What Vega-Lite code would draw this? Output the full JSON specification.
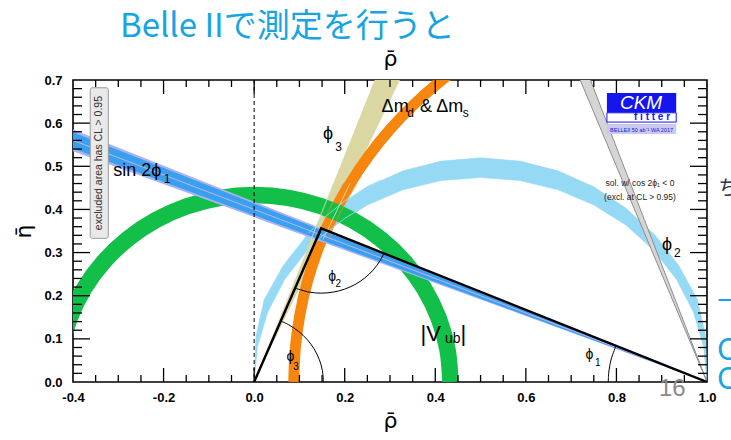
{
  "$schema": "https://vega.github.io/schema/vega-lite/v6.json",
  "width": 634,
  "height": 302,
  "autosize": "none",
  "padding": {"left": 73, "top": 80, "right": 24, "bottom": 58},
  "background": "white",
  "title": {
    "text": "Belle IIで測定を行うと",
    "anchor": "start",
    "frame": "group",
    "dx": 47,
    "offset": 3,
    "fontSize": 33,
    "font": "Noto Sans CJK JP",
    "fontWeight": "normal",
    "color": "#16a4e3"
  },
  "config": {
    "view": {"stroke": "black", "strokeWidth": 1.6},
    "axis": {
      "grid": false,
      "domain": false,
      "ticks": false,
      "labelFont": "Liberation Sans",
      "titleFont": "DejaVu Sans",
      "labelColor": "black",
      "titleColor": "black"
    },
    "text": {"font": "Liberation Sans"}
  },
  "datasets": {
    "phi2": [
      {"rho": 1.0, "eta": 0.0}, {"rho": 0.997, "eta": 0.1064}, {"rho": 0.979, "eta": 0.1906},
      {"rho": 0.938, "eta": 0.2696}, {"rho": 0.885, "eta": 0.341}, {"rho": 0.8214, "eta": 0.4026},
      {"rho": 0.75, "eta": 0.4526}, {"rho": 0.671, "eta": 0.4895}, {"rho": 0.5868, "eta": 0.512},
      {"rho": 0.5, "eta": 0.5196}, {"rho": 0.4132, "eta": 0.512}, {"rho": 0.329, "eta": 0.4895},
      {"rho": 0.25, "eta": 0.4526}, {"rho": 0.1786, "eta": 0.4026}, {"rho": 0.117, "eta": 0.341},
      {"rho": 0.064, "eta": 0.2696}, {"rho": 0.022, "eta": 0.1906}, {"rho": 0.004, "eta": 0.1064},
      {"rho": 0.0, "eta": 0.0},
      {"rho": 0.0076, "eta": 0.0823}, {"rho": 0.0302, "eta": 0.1621}, {"rho": 0.067, "eta": 0.237},
      {"rho": 0.117, "eta": 0.3047}, {"rho": 0.1786, "eta": 0.3631}, {"rho": 0.25, "eta": 0.4105},
      {"rho": 0.329, "eta": 0.4454}, {"rho": 0.4132, "eta": 0.4668}, {"rho": 0.5, "eta": 0.474},
      {"rho": 0.5868, "eta": 0.4668}, {"rho": 0.671, "eta": 0.4454}, {"rho": 0.75, "eta": 0.4105},
      {"rho": 0.8214, "eta": 0.3631}, {"rho": 0.883, "eta": 0.3047}, {"rho": 0.933, "eta": 0.237},
      {"rho": 0.9698, "eta": 0.1621}, {"rho": 0.9924, "eta": 0.0823}
    ],
    "phi3": [
      {"rho": 0.0, "lo": 0.0, "hi": 0.0},
      {"rho": 0.35, "lo": 0.7609, "hi": 0.9211}
    ],
    "dm": [
      {"rho": 0.0875, "eta": 0.0}, {"rho": 0.091, "eta": 0.0795}, {"rho": 0.1014, "eta": 0.1584},
      {"rho": 0.1186, "eta": 0.2362}, {"rho": 0.1425, "eta": 0.3121}, {"rho": 0.173, "eta": 0.3856},
      {"rho": 0.2098, "eta": 0.4563}, {"rho": 0.2525, "eta": 0.5234}, {"rho": 0.301, "eta": 0.5866},
      {"rho": 0.3548, "eta": 0.6452}, {"rho": 0.4134, "eta": 0.699}, {"rho": 0.4766, "eta": 0.7475}
    ],
    "vub": [
      {"rho": 0.4335, "eta": 0.0}, {"rho": 0.4269, "eta": 0.0753}, {"rho": 0.4074, "eta": 0.1483},
      {"rho": 0.3754, "eta": 0.2168}, {"rho": 0.3321, "eta": 0.2787}, {"rho": 0.2787, "eta": 0.3321},
      {"rho": 0.2168, "eta": 0.3754}, {"rho": 0.1483, "eta": 0.4074}, {"rho": 0.0753, "eta": 0.4269},
      {"rho": 0.0, "eta": 0.4335}, {"rho": -0.0753, "eta": 0.4269}, {"rho": -0.1483, "eta": 0.4074},
      {"rho": -0.2168, "eta": 0.3754}, {"rho": -0.2787, "eta": 0.3321}, {"rho": -0.3321, "eta": 0.2787},
      {"rho": -0.3754, "eta": 0.2168}, {"rho": -0.4074, "eta": 0.1483}, {"rho": -0.4269, "eta": 0.0753}
    ],
    "sin2phi": [
      {"rho": -0.4, "out_lo": 0.5348, "out_hi": 0.5852, "in_lo": 0.5411, "in_hi": 0.5789, "eta": 0.56},
      {"rho": 1.0, "out_lo": 0.0, "out_hi": 0.0, "in_lo": 0.0, "in_hi": 0.0, "eta": 0.0}
    ],
    "alt": [
      {"rho": 0.7, "lo": 0.75, "hi": 0.816},
      {"rho": 1.0, "lo": 0.0, "hi": 0.0}
    ],
    "outlines": [
      {"band": "dm", "seg": "dm_out", "rho": 0.136, "eta": 0.33},
      {"band": "dm", "seg": "dm_out", "rho": 0.165, "eta": 0.398},
      {"band": "dm", "seg": "dm_out", "rho": 0.1975, "eta": 0.46},
      {"band": "dm", "seg": "dm_in", "rho": 0.163, "eta": 0.33},
      {"band": "dm", "seg": "dm_in", "rho": 0.191, "eta": 0.3945},
      {"band": "dm", "seg": "dm_in", "rho": 0.226, "eta": 0.46},
      {"band": "phi3", "seg": "p3_a", "rho": 0.1254, "eta": 0.33},
      {"band": "phi3", "seg": "p3_a", "rho": 0.1748, "eta": 0.46},
      {"band": "phi3", "seg": "p3_b", "rho": 0.1518, "eta": 0.33},
      {"band": "phi3", "seg": "p3_b", "rho": 0.2116, "eta": 0.46},
      {"band": "phi2", "seg": "p2_out", "rho": 0.12, "eta": 0.3446},
      {"band": "phi2", "seg": "p2_out", "rho": 0.15, "eta": 0.3767},
      {"band": "phi2", "seg": "p2_out", "rho": 0.2, "eta": 0.4196},
      {"band": "phi2", "seg": "p2_out", "rho": 0.25, "eta": 0.4526},
      {"band": "phi2", "seg": "p2_out", "rho": 0.28, "eta": 0.4686},
      {"band": "phi2", "seg": "p2_in", "rho": 0.12, "eta": 0.3047},
      {"band": "phi2", "seg": "p2_in", "rho": 0.15, "eta": 0.3385},
      {"band": "phi2", "seg": "p2_in", "rho": 0.2, "eta": 0.3792},
      {"band": "phi2", "seg": "p2_in", "rho": 0.25, "eta": 0.4105},
      {"band": "phi2", "seg": "p2_in", "rho": 0.3, "eta": 0.4345}
    ],
    "tickmarks": [
      {"t": "b01", "rho": -0.35, "eta": 0}, {"t": "b01", "rho": -0.35, "eta": 0.0162},
      {"t": "b02", "rho": -0.3, "eta": 0}, {"t": "b02", "rho": -0.3, "eta": 0.0162},
      {"t": "b03", "rho": -0.25, "eta": 0}, {"t": "b03", "rho": -0.25, "eta": 0.0162},
      {"t": "b04", "rho": -0.2, "eta": 0}, {"t": "b04", "rho": -0.2, "eta": 0.0324},
      {"t": "b05", "rho": -0.15, "eta": 0}, {"t": "b05", "rho": -0.15, "eta": 0.0162},
      {"t": "b06", "rho": -0.1, "eta": 0}, {"t": "b06", "rho": -0.1, "eta": 0.0162},
      {"t": "b07", "rho": -0.05, "eta": 0}, {"t": "b07", "rho": -0.05, "eta": 0.0162},
      {"t": "b08", "rho": 0.0, "eta": 0}, {"t": "b08", "rho": 0.0, "eta": 0.0324},
      {"t": "b09", "rho": 0.05, "eta": 0}, {"t": "b09", "rho": 0.05, "eta": 0.0162},
      {"t": "b10", "rho": 0.1, "eta": 0}, {"t": "b10", "rho": 0.1, "eta": 0.0162},
      {"t": "b11", "rho": 0.15, "eta": 0}, {"t": "b11", "rho": 0.15, "eta": 0.0162},
      {"t": "b12", "rho": 0.2, "eta": 0}, {"t": "b12", "rho": 0.2, "eta": 0.0324},
      {"t": "b13", "rho": 0.25, "eta": 0}, {"t": "b13", "rho": 0.25, "eta": 0.0162},
      {"t": "b14", "rho": 0.3, "eta": 0}, {"t": "b14", "rho": 0.3, "eta": 0.0162},
      {"t": "b15", "rho": 0.35, "eta": 0}, {"t": "b15", "rho": 0.35, "eta": 0.0162},
      {"t": "b16", "rho": 0.4, "eta": 0}, {"t": "b16", "rho": 0.4, "eta": 0.0324},
      {"t": "b17", "rho": 0.45, "eta": 0}, {"t": "b17", "rho": 0.45, "eta": 0.0162},
      {"t": "b18", "rho": 0.5, "eta": 0}, {"t": "b18", "rho": 0.5, "eta": 0.0162},
      {"t": "b19", "rho": 0.55, "eta": 0}, {"t": "b19", "rho": 0.55, "eta": 0.0162},
      {"t": "b20", "rho": 0.6, "eta": 0}, {"t": "b20", "rho": 0.6, "eta": 0.0324},
      {"t": "b21", "rho": 0.65, "eta": 0}, {"t": "b21", "rho": 0.65, "eta": 0.0162},
      {"t": "b22", "rho": 0.7, "eta": 0}, {"t": "b22", "rho": 0.7, "eta": 0.0162},
      {"t": "b23", "rho": 0.75, "eta": 0}, {"t": "b23", "rho": 0.75, "eta": 0.0162},
      {"t": "b24", "rho": 0.8, "eta": 0}, {"t": "b24", "rho": 0.8, "eta": 0.0324},
      {"t": "b25", "rho": 0.85, "eta": 0}, {"t": "b25", "rho": 0.85, "eta": 0.0162},
      {"t": "b26", "rho": 0.9, "eta": 0}, {"t": "b26", "rho": 0.9, "eta": 0.0162},
      {"t": "b27", "rho": 0.95, "eta": 0}, {"t": "b27", "rho": 0.95, "eta": 0.0162},
      {"t": "t01", "rho": -0.35, "eta": 0.7}, {"t": "t01", "rho": -0.35, "eta": 0.6838},
      {"t": "t02", "rho": -0.3, "eta": 0.7}, {"t": "t02", "rho": -0.3, "eta": 0.6838},
      {"t": "t03", "rho": -0.25, "eta": 0.7}, {"t": "t03", "rho": -0.25, "eta": 0.6838},
      {"t": "t04", "rho": -0.2, "eta": 0.7}, {"t": "t04", "rho": -0.2, "eta": 0.6676},
      {"t": "t05", "rho": -0.15, "eta": 0.7}, {"t": "t05", "rho": -0.15, "eta": 0.6838},
      {"t": "t06", "rho": -0.1, "eta": 0.7}, {"t": "t06", "rho": -0.1, "eta": 0.6838},
      {"t": "t07", "rho": -0.05, "eta": 0.7}, {"t": "t07", "rho": -0.05, "eta": 0.6838},
      {"t": "t08", "rho": 0.0, "eta": 0.7}, {"t": "t08", "rho": 0.0, "eta": 0.6676},
      {"t": "t09", "rho": 0.05, "eta": 0.7}, {"t": "t09", "rho": 0.05, "eta": 0.6838},
      {"t": "t10", "rho": 0.1, "eta": 0.7}, {"t": "t10", "rho": 0.1, "eta": 0.6838},
      {"t": "t11", "rho": 0.15, "eta": 0.7}, {"t": "t11", "rho": 0.15, "eta": 0.6838},
      {"t": "t12", "rho": 0.2, "eta": 0.7}, {"t": "t12", "rho": 0.2, "eta": 0.6676},
      {"t": "t13", "rho": 0.25, "eta": 0.7}, {"t": "t13", "rho": 0.25, "eta": 0.6838},
      {"t": "t14", "rho": 0.3, "eta": 0.7}, {"t": "t14", "rho": 0.3, "eta": 0.6838},
      {"t": "t15", "rho": 0.35, "eta": 0.7}, {"t": "t15", "rho": 0.35, "eta": 0.6838},
      {"t": "t16", "rho": 0.4, "eta": 0.7}, {"t": "t16", "rho": 0.4, "eta": 0.6676},
      {"t": "t17", "rho": 0.45, "eta": 0.7}, {"t": "t17", "rho": 0.45, "eta": 0.6838},
      {"t": "t18", "rho": 0.5, "eta": 0.7}, {"t": "t18", "rho": 0.5, "eta": 0.6838},
      {"t": "t19", "rho": 0.55, "eta": 0.7}, {"t": "t19", "rho": 0.55, "eta": 0.6838},
      {"t": "t20", "rho": 0.6, "eta": 0.7}, {"t": "t20", "rho": 0.6, "eta": 0.6676},
      {"t": "t21", "rho": 0.65, "eta": 0.7}, {"t": "t21", "rho": 0.65, "eta": 0.6838},
      {"t": "t22", "rho": 0.7, "eta": 0.7}, {"t": "t22", "rho": 0.7, "eta": 0.6838},
      {"t": "t23", "rho": 0.75, "eta": 0.7}, {"t": "t23", "rho": 0.75, "eta": 0.6838},
      {"t": "t24", "rho": 0.8, "eta": 0.7}, {"t": "t24", "rho": 0.8, "eta": 0.6676},
      {"t": "t25", "rho": 0.85, "eta": 0.7}, {"t": "t25", "rho": 0.85, "eta": 0.6838},
      {"t": "t26", "rho": 0.9, "eta": 0.7}, {"t": "t26", "rho": 0.9, "eta": 0.6838},
      {"t": "t27", "rho": 0.95, "eta": 0.7}, {"t": "t27", "rho": 0.95, "eta": 0.6838},
      {"t": "l01", "rho": -0.4, "eta": 0.02}, {"t": "l01", "rho": -0.3801, "eta": 0.02},
      {"t": "l02", "rho": -0.4, "eta": 0.04}, {"t": "l02", "rho": -0.3801, "eta": 0.04},
      {"t": "l03", "rho": -0.4, "eta": 0.06}, {"t": "l03", "rho": -0.3801, "eta": 0.06},
      {"t": "l04", "rho": -0.4, "eta": 0.08}, {"t": "l04", "rho": -0.3801, "eta": 0.08},
      {"t": "l05", "rho": -0.4, "eta": 0.1}, {"t": "l05", "rho": -0.3625, "eta": 0.1},
      {"t": "l06", "rho": -0.4, "eta": 0.12}, {"t": "l06", "rho": -0.3801, "eta": 0.12},
      {"t": "l07", "rho": -0.4, "eta": 0.14}, {"t": "l07", "rho": -0.3801, "eta": 0.14},
      {"t": "l08", "rho": -0.4, "eta": 0.16}, {"t": "l08", "rho": -0.3801, "eta": 0.16},
      {"t": "l09", "rho": -0.4, "eta": 0.18}, {"t": "l09", "rho": -0.3801, "eta": 0.18},
      {"t": "l10", "rho": -0.4, "eta": 0.2}, {"t": "l10", "rho": -0.3625, "eta": 0.2},
      {"t": "l11", "rho": -0.4, "eta": 0.22}, {"t": "l11", "rho": -0.3801, "eta": 0.22},
      {"t": "l12", "rho": -0.4, "eta": 0.24}, {"t": "l12", "rho": -0.3801, "eta": 0.24},
      {"t": "l13", "rho": -0.4, "eta": 0.26}, {"t": "l13", "rho": -0.3801, "eta": 0.26},
      {"t": "l14", "rho": -0.4, "eta": 0.28}, {"t": "l14", "rho": -0.3801, "eta": 0.28},
      {"t": "l15", "rho": -0.4, "eta": 0.3}, {"t": "l15", "rho": -0.3625, "eta": 0.3},
      {"t": "l16", "rho": -0.4, "eta": 0.32}, {"t": "l16", "rho": -0.3801, "eta": 0.32},
      {"t": "l17", "rho": -0.4, "eta": 0.34}, {"t": "l17", "rho": -0.3801, "eta": 0.34},
      {"t": "l18", "rho": -0.4, "eta": 0.36}, {"t": "l18", "rho": -0.3801, "eta": 0.36},
      {"t": "l19", "rho": -0.4, "eta": 0.38}, {"t": "l19", "rho": -0.3801, "eta": 0.38},
      {"t": "l20", "rho": -0.4, "eta": 0.4}, {"t": "l20", "rho": -0.3625, "eta": 0.4},
      {"t": "l21", "rho": -0.4, "eta": 0.42}, {"t": "l21", "rho": -0.3801, "eta": 0.42},
      {"t": "l22", "rho": -0.4, "eta": 0.44}, {"t": "l22", "rho": -0.3801, "eta": 0.44},
      {"t": "l23", "rho": -0.4, "eta": 0.46}, {"t": "l23", "rho": -0.3801, "eta": 0.46},
      {"t": "l24", "rho": -0.4, "eta": 0.48}, {"t": "l24", "rho": -0.3801, "eta": 0.48},
      {"t": "l25", "rho": -0.4, "eta": 0.5}, {"t": "l25", "rho": -0.3625, "eta": 0.5},
      {"t": "l26", "rho": -0.4, "eta": 0.52}, {"t": "l26", "rho": -0.3801, "eta": 0.52},
      {"t": "l27", "rho": -0.4, "eta": 0.54}, {"t": "l27", "rho": -0.3801, "eta": 0.54},
      {"t": "l28", "rho": -0.4, "eta": 0.56}, {"t": "l28", "rho": -0.3801, "eta": 0.56},
      {"t": "l29", "rho": -0.4, "eta": 0.58}, {"t": "l29", "rho": -0.3801, "eta": 0.58},
      {"t": "l30", "rho": -0.4, "eta": 0.6}, {"t": "l30", "rho": -0.3625, "eta": 0.6},
      {"t": "l31", "rho": -0.4, "eta": 0.62}, {"t": "l31", "rho": -0.3801, "eta": 0.62},
      {"t": "l32", "rho": -0.4, "eta": 0.64}, {"t": "l32", "rho": -0.3801, "eta": 0.64},
      {"t": "l33", "rho": -0.4, "eta": 0.66}, {"t": "l33", "rho": -0.3801, "eta": 0.66},
      {"t": "l34", "rho": -0.4, "eta": 0.68}, {"t": "l34", "rho": -0.3801, "eta": 0.68},
      {"t": "r01", "rho": 1.0, "eta": 0.02}, {"t": "r01", "rho": 0.9801, "eta": 0.02},
      {"t": "r02", "rho": 1.0, "eta": 0.04}, {"t": "r02", "rho": 0.9801, "eta": 0.04},
      {"t": "r03", "rho": 1.0, "eta": 0.06}, {"t": "r03", "rho": 0.9801, "eta": 0.06},
      {"t": "r04", "rho": 1.0, "eta": 0.08}, {"t": "r04", "rho": 0.9801, "eta": 0.08},
      {"t": "r05", "rho": 1.0, "eta": 0.1}, {"t": "r05", "rho": 0.9625, "eta": 0.1},
      {"t": "r06", "rho": 1.0, "eta": 0.12}, {"t": "r06", "rho": 0.9801, "eta": 0.12},
      {"t": "r07", "rho": 1.0, "eta": 0.14}, {"t": "r07", "rho": 0.9801, "eta": 0.14},
      {"t": "r08", "rho": 1.0, "eta": 0.16}, {"t": "r08", "rho": 0.9801, "eta": 0.16},
      {"t": "r09", "rho": 1.0, "eta": 0.18}, {"t": "r09", "rho": 0.9801, "eta": 0.18},
      {"t": "r10", "rho": 1.0, "eta": 0.2}, {"t": "r10", "rho": 0.9625, "eta": 0.2},
      {"t": "r11", "rho": 1.0, "eta": 0.22}, {"t": "r11", "rho": 0.9801, "eta": 0.22},
      {"t": "r12", "rho": 1.0, "eta": 0.24}, {"t": "r12", "rho": 0.9801, "eta": 0.24},
      {"t": "r13", "rho": 1.0, "eta": 0.26}, {"t": "r13", "rho": 0.9801, "eta": 0.26},
      {"t": "r14", "rho": 1.0, "eta": 0.28}, {"t": "r14", "rho": 0.9801, "eta": 0.28},
      {"t": "r15", "rho": 1.0, "eta": 0.3}, {"t": "r15", "rho": 0.9625, "eta": 0.3},
      {"t": "r16", "rho": 1.0, "eta": 0.32}, {"t": "r16", "rho": 0.9801, "eta": 0.32},
      {"t": "r17", "rho": 1.0, "eta": 0.34}, {"t": "r17", "rho": 0.9801, "eta": 0.34},
      {"t": "r18", "rho": 1.0, "eta": 0.36}, {"t": "r18", "rho": 0.9801, "eta": 0.36},
      {"t": "r19", "rho": 1.0, "eta": 0.38}, {"t": "r19", "rho": 0.9801, "eta": 0.38},
      {"t": "r20", "rho": 1.0, "eta": 0.4}, {"t": "r20", "rho": 0.9625, "eta": 0.4},
      {"t": "r21", "rho": 1.0, "eta": 0.42}, {"t": "r21", "rho": 0.9801, "eta": 0.42},
      {"t": "r22", "rho": 1.0, "eta": 0.44}, {"t": "r22", "rho": 0.9801, "eta": 0.44},
      {"t": "r23", "rho": 1.0, "eta": 0.46}, {"t": "r23", "rho": 0.9801, "eta": 0.46},
      {"t": "r24", "rho": 1.0, "eta": 0.48}, {"t": "r24", "rho": 0.9801, "eta": 0.48},
      {"t": "r25", "rho": 1.0, "eta": 0.5}, {"t": "r25", "rho": 0.9625, "eta": 0.5},
      {"t": "r26", "rho": 1.0, "eta": 0.52}, {"t": "r26", "rho": 0.9801, "eta": 0.52},
      {"t": "r27", "rho": 1.0, "eta": 0.54}, {"t": "r27", "rho": 0.9801, "eta": 0.54},
      {"t": "r28", "rho": 1.0, "eta": 0.56}, {"t": "r28", "rho": 0.9801, "eta": 0.56},
      {"t": "r29", "rho": 1.0, "eta": 0.58}, {"t": "r29", "rho": 0.9801, "eta": 0.58},
      {"t": "r30", "rho": 1.0, "eta": 0.6}, {"t": "r30", "rho": 0.9625, "eta": 0.6},
      {"t": "r31", "rho": 1.0, "eta": 0.62}, {"t": "r31", "rho": 0.9801, "eta": 0.62},
      {"t": "r32", "rho": 1.0, "eta": 0.64}, {"t": "r32", "rho": 0.9801, "eta": 0.64},
      {"t": "r33", "rho": 1.0, "eta": 0.66}, {"t": "r33", "rho": 0.9801, "eta": 0.66},
      {"t": "r34", "rho": 1.0, "eta": 0.68}, {"t": "r34", "rho": 0.9801, "eta": 0.68}
    ],
    "refline": [{"rho": 0.0}],
    "triangle": [
      {"rho": 0.0, "eta": 0.0},
      {"rho": 0.148, "eta": 0.356},
      {"rho": 1.0, "eta": 0.0}
    ],
    "angles": [
      {"arc": "phi3", "rho": 0.153, "eta": 0.0}, {"arc": "phi3", "rho": 0.1507, "eta": 0.0266},
      {"arc": "phi3", "rho": 0.1438, "eta": 0.0523}, {"arc": "phi3", "rho": 0.1325, "eta": 0.0765},
      {"arc": "phi3", "rho": 0.1172, "eta": 0.0983}, {"arc": "phi3", "rho": 0.0983, "eta": 0.1172},
      {"arc": "phi3", "rho": 0.0765, "eta": 0.1325}, {"arc": "phi3", "rho": 0.0588, "eta": 0.1413},
      {"arc": "phi2", "rho": 0.0904, "eta": 0.2175}, {"arc": "phi2", "rho": 0.122, "eta": 0.2083},
      {"arc": "phi2", "rho": 0.148, "eta": 0.206}, {"arc": "phi2", "rho": 0.174, "eta": 0.2083},
      {"arc": "phi2", "rho": 0.1993, "eta": 0.215}, {"arc": "phi2", "rho": 0.223, "eta": 0.2261},
      {"arc": "phi2", "rho": 0.2444, "eta": 0.2411}, {"arc": "phi2", "rho": 0.2629, "eta": 0.2596},
      {"arc": "phi2", "rho": 0.2779, "eta": 0.281}, {"arc": "phi2", "rho": 0.2864, "eta": 0.2981},
      {"arc": "phi1", "rho": 0.7989, "eta": 0.0841}, {"arc": "phi1", "rho": 0.7894, "eta": 0.0564},
      {"arc": "phi1", "rho": 0.7853, "eta": 0.0378}, {"arc": "phi1", "rho": 0.7828, "eta": 0.019},
      {"arc": "phi1", "rho": 0.782, "eta": 0.0}
    ],
    "boxes": [
      {"role": "excl", "rho": -0.362, "rho2": -0.322, "eta": 0.333, "eta2": 0.682},
      {"role": "logo", "rho": 0.779, "rho2": 0.932, "eta": 0.624, "eta2": 0.67},
      {"role": "fitter", "rho": 0.779, "rho2": 0.932, "eta": 0.6025, "eta2": 0.624},
      {"role": "strip", "rho": 0.779, "rho2": 0.932, "eta": 0.575, "eta2": 0.598}
    ],
    "labels": [
      {"role": "main", "label": "sin 2ϕ", "rho": -0.3113, "eta": 0.478},
      {"role": "sub", "label": "1", "rho": -0.1998, "eta": 0.4605},
      {"role": "main", "label": "Δm", "rho": 0.2815, "eta": 0.6267},
      {"role": "sub", "label": "d", "rho": 0.338, "eta": 0.6144},
      {"role": "main", "label": "& Δm", "rho": 0.3665, "eta": 0.6267},
      {"role": "sub", "label": "s", "rho": 0.4605, "eta": 0.6144},
      {"role": "main", "label": "ϕ", "rho": 0.152, "eta": 0.563},
      {"role": "sub", "label": "3", "rho": 0.179, "eta": 0.5357},
      {"role": "main", "label": "ϕ", "rho": 0.9007, "eta": 0.3066},
      {"role": "sub", "label": "2", "rho": 0.927, "eta": 0.2904},
      {"role": "big", "label": "|V", "rho": 0.3675, "eta": 0.096},
      {"role": "bigsub", "label": "ub", "rho": 0.4216, "eta": 0.0914},
      {"role": "big", "label": "|", "rho": 0.4558, "eta": 0.096},
      {"role": "angle", "label": "ϕ", "rho": 0.1634, "eta": 0.235},
      {"role": "anglesub", "label": "2", "rho": 0.1799, "eta": 0.2203},
      {"role": "angle", "label": "ϕ", "rho": 0.0717, "eta": 0.048},
      {"role": "anglesub", "label": "3", "rho": 0.0861, "eta": 0.0278},
      {"role": "angle", "label": "ϕ", "rho": 0.7318, "eta": 0.0544},
      {"role": "anglesub", "label": "1", "rho": 0.7528, "eta": 0.0382},
      {"role": "note", "label": "sol. w/ cos 2ϕ₁ < 0", "rho": 0.852, "eta": 0.4548},
      {"role": "note", "label": "(excl. at CL > 0.95)", "rho": 0.852, "eta": 0.4223},
      {"role": "vert", "label": "excluded area has CL > 0.95", "rho": -0.342, "eta": 0.5075},
      {"role": "ckm", "label": "CKM", "rho": 0.8543, "eta": 0.6335},
      {"role": "fitter", "label": "f i t t e r", "rho": 0.8786, "eta": 0.6062},
      {"role": "tag", "label": "BELLEII 50 ab⁻¹ WA 2017", "rho": 0.8555, "eta": 0.5798},
      {"role": "page", "label": "16", "rho": 0.894, "eta": -0.0329},
      {"role": "edge", "label": "C", "rho": 1.022, "eta": 0.05},
      {"role": "edge", "label": "C", "rho": 1.022, "eta": -0.016},
      {"role": "edge", "label": "—", "rho": 1.022, "eta": 0.172},
      {"role": "edgedark", "label": "ち", "rho": 1.025, "eta": 0.434}
    ]
  },
  "resolve": {"axis": {"x": "independent", "y": "independent"}},
  "layer": [
    {
      "data": {"name": "phi2"},
      "mark": {"type": "line", "interpolate": "linear-closed", "fill": "#95d9f4", "stroke": "#95d9f4", "strokeWidth": 0.5, "clip": true},
      "encoding": {
        "x": {"field": "rho", "type": "quantitative", "scale": {"domain": [-0.4, 1.0], "nice": false, "zero": false},
          "axis": {"orient": "bottom", "values": [-0.4, -0.2, 0, 0.2, 0.4, 0.6, 0.8, 1.0], "format": ".1f", "labelExpr": "replace(datum.label, '−', '-')",
            "labelFontSize": 13, "labelFontWeight": "bold", "labelPadding": 9, "labelFlush": false, "labelOverlap": false,
            "title": "ρ̄", "titleFontSize": 22, "titleFontWeight": "normal", "titlePadding": 6}},
        "y": {"field": "eta", "type": "quantitative", "scale": {"domain": [0, 0.7], "nice": false, "zero": false},
          "axis": {"orient": "left", "values": [0, 0.1, 0.2, 0.3, 0.4, 0.5, 0.6, 0.7], "format": ".1f",
            "labelFontSize": 13, "labelFontWeight": "bold", "labelPadding": 11, "labelFlush": false, "labelOverlap": false,
            "title": "η̄", "titleFontSize": 22, "titleFontWeight": "normal", "titlePadding": 8}},
        "order": {"value": null}
      }
    },
    {
      "data": {"name": "phi3"},
      "mark": {"type": "area", "color": "#dbd7a3", "clip": true},
      "encoding": {
        "x": {"field": "rho", "type": "quantitative", "scale": {"domain": [-0.4, 1.0], "nice": false, "zero": false}, "axis": null},
        "y": {"field": "hi", "type": "quantitative", "scale": {"domain": [0, 0.7], "nice": false, "zero": false}, "axis": null},
        "y2": {"field": "lo"}
      }
    },
    {
      "data": {"name": "dm"},
      "mark": {"type": "line", "color": "#f7860e", "strokeWidth": 11, "strokeCap": "butt", "interpolate": "cardinal", "clip": true},
      "encoding": {
        "x": {"field": "rho", "type": "quantitative", "scale": {"domain": [-0.4, 1.0], "nice": false, "zero": false}, "axis": null},
        "y": {"field": "eta", "type": "quantitative", "scale": {"domain": [0, 0.7], "nice": false, "zero": false}, "axis": null},
        "order": {"value": null}
      }
    },
    {
      "data": {"name": "vub"},
      "mark": {"type": "line", "color": "#12bf49", "strokeWidth": 16.5, "strokeCap": "butt", "interpolate": "cardinal", "clip": true},
      "encoding": {
        "x": {"field": "rho", "type": "quantitative", "scale": {"domain": [-0.4, 1.0], "nice": false, "zero": false}, "axis": null},
        "y": {"field": "eta", "type": "quantitative", "scale": {"domain": [0, 0.7], "nice": false, "zero": false}, "axis": null},
        "order": {"value": null}
      }
    },
    {
      "data": {"name": "sin2phi"},
      "mark": {"type": "area", "color": "#a9b3f2", "clip": true},
      "encoding": {
        "x": {"field": "rho", "type": "quantitative", "scale": {"domain": [-0.4, 1.0], "nice": false, "zero": false}, "axis": null},
        "y": {"field": "out_hi", "type": "quantitative", "scale": {"domain": [0, 0.7], "nice": false, "zero": false}, "axis": null},
        "y2": {"field": "out_lo"}
      }
    },
    {
      "data": {"name": "sin2phi"},
      "mark": {"type": "area", "color": "#3a9fef", "clip": true},
      "encoding": {
        "x": {"field": "rho", "type": "quantitative", "scale": {"domain": [-0.4, 1.0], "nice": false, "zero": false},
          "axis": {"orient": "top", "labels": false, "domain": false, "title": "ρ̄", "titleFontSize": 22, "titleFontWeight": "normal", "titlePadding": 10}},
        "y": {"field": "in_hi", "type": "quantitative", "scale": {"domain": [0, 0.7], "nice": false, "zero": false}, "axis": null},
        "y2": {"field": "in_lo"}
      }
    },
    {
      "data": {"name": "sin2phi"},
      "mark": {"type": "line", "color": "#b6b8f3", "strokeWidth": 1, "clip": true},
      "encoding": {
        "x": {"field": "rho", "type": "quantitative", "scale": {"domain": [-0.4, 1.0], "nice": false, "zero": false}, "axis": null},
        "y": {"field": "eta", "type": "quantitative", "scale": {"domain": [0, 0.7], "nice": false, "zero": false}, "axis": null}
      }
    },
    {
      "data": {"name": "alt"},
      "mark": {"type": "area", "fill": "#d5d5d5", "stroke": "#8e8e8e", "strokeWidth": 1, "clip": true},
      "encoding": {
        "x": {"field": "rho", "type": "quantitative", "scale": {"domain": [-0.4, 1.0], "nice": false, "zero": false}, "axis": null},
        "y": {"field": "hi", "type": "quantitative", "scale": {"domain": [0, 0.7], "nice": false, "zero": false}, "axis": null},
        "y2": {"field": "lo"}
      }
    },
    {
      "data": {"name": "outlines"},
      "mark": {"type": "line", "strokeWidth": 0.8, "clip": true},
      "encoding": {
        "x": {"field": "rho", "type": "quantitative", "scale": {"domain": [-0.4, 1.0], "nice": false, "zero": false}, "axis": null},
        "y": {"field": "eta", "type": "quantitative", "scale": {"domain": [0, 0.7], "nice": false, "zero": false}, "axis": null},
        "color": {"field": "band", "type": "nominal", "legend": null,
          "scale": {"domain": ["dm", "phi3", "phi2"], "range": ["#f0861a", "#e6e2b4", "#a0dcf5"]}},
        "detail": {"field": "seg", "type": "nominal"},
        "order": {"value": null}
      }
    },
    {
      "data": {"name": "tickmarks"},
      "mark": {"type": "line", "color": "black", "strokeWidth": 1.3},
      "encoding": {
        "x": {"field": "rho", "type": "quantitative", "scale": {"domain": [-0.4, 1.0], "nice": false, "zero": false}, "axis": null},
        "y": {"field": "eta", "type": "quantitative", "scale": {"domain": [0, 0.7], "nice": false, "zero": false}, "axis": null},
        "detail": {"field": "t", "type": "nominal"},
        "order": {"value": null}
      }
    },
    {
      "data": {"name": "refline"},
      "mark": {"type": "rule", "color": "black", "strokeWidth": 1, "strokeDash": [4, 3]},
      "encoding": {
        "x": {"field": "rho", "type": "quantitative", "scale": {"domain": [-0.4, 1.0], "nice": false, "zero": false}, "axis": null}
      }
    },
    {
      "data": {"name": "triangle"},
      "mark": {"type": "line", "color": "black", "strokeWidth": 2.4, "strokeJoin": "miter", "clip": true},
      "encoding": {
        "x": {"field": "rho", "type": "quantitative", "scale": {"domain": [-0.4, 1.0], "nice": false, "zero": false}, "axis": null},
        "y": {"field": "eta", "type": "quantitative", "scale": {"domain": [0, 0.7], "nice": false, "zero": false}, "axis": null},
        "order": {"value": null}
      }
    },
    {
      "data": {"name": "angles"},
      "mark": {"type": "line", "color": "black", "strokeWidth": 1, "interpolate": "cardinal"},
      "encoding": {
        "x": {"field": "rho", "type": "quantitative", "scale": {"domain": [-0.4, 1.0], "nice": false, "zero": false}, "axis": null},
        "y": {"field": "eta", "type": "quantitative", "scale": {"domain": [0, 0.7], "nice": false, "zero": false}, "axis": null},
        "detail": {"field": "arc", "type": "nominal"},
        "order": {"value": null}
      }
    },
    {
      "data": {"name": "boxes"},
      "transform": [{"filter": "datum.role === 'excl'"}],
      "mark": {"type": "rect", "fill": "#e9e9e9", "stroke": "#9a9a9a", "strokeWidth": 1, "cornerRadius": 2},
      "encoding": {
        "x": {"field": "rho", "type": "quantitative", "scale": {"domain": [-0.4, 1.0], "nice": false, "zero": false}, "axis": null},
        "y": {"field": "eta", "type": "quantitative", "scale": {"domain": [0, 0.7], "nice": false, "zero": false}, "axis": null},
        "x2": {"field": "rho2"}, "y2": {"field": "eta2"}
      }
    },
    {
      "data": {"name": "boxes"},
      "transform": [{"filter": "datum.role === 'logo'"}],
      "mark": {"type": "rect", "fill": "#1515ee"},
      "encoding": {
        "x": {"field": "rho", "type": "quantitative", "scale": {"domain": [-0.4, 1.0], "nice": false, "zero": false}, "axis": null},
        "y": {"field": "eta", "type": "quantitative", "scale": {"domain": [0, 0.7], "nice": false, "zero": false}, "axis": null},
        "x2": {"field": "rho2"}, "y2": {"field": "eta2"}
      }
    },
    {
      "data": {"name": "boxes"},
      "transform": [{"filter": "datum.role === 'fitter'"}],
      "mark": {"type": "rect", "fill": "white", "stroke": "#1515ee", "strokeWidth": 1},
      "encoding": {
        "x": {"field": "rho", "type": "quantitative", "scale": {"domain": [-0.4, 1.0], "nice": false, "zero": false}, "axis": null},
        "y": {"field": "eta", "type": "quantitative", "scale": {"domain": [0, 0.7], "nice": false, "zero": false}, "axis": null},
        "x2": {"field": "rho2"}, "y2": {"field": "eta2"}
      }
    },
    {
      "data": {"name": "boxes"},
      "transform": [{"filter": "datum.role === 'strip'"}],
      "mark": {"type": "rect", "fill": "#c9c9f0"},
      "encoding": {
        "x": {"field": "rho", "type": "quantitative", "scale": {"domain": [-0.4, 1.0], "nice": false, "zero": false}, "axis": null},
        "y": {"field": "eta", "type": "quantitative", "scale": {"domain": [0, 0.7], "nice": false, "zero": false}, "axis": null},
        "x2": {"field": "rho2"}, "y2": {"field": "eta2"}
      }
    },
    {
      "data": {"name": "labels"},
      "transform": [{"filter": "datum.role === 'main'"}],
      "mark": {"type": "text", "fontSize": 18, "align": "left", "baseline": "alphabetic", "color": "black"},
      "encoding": {
        "x": {"field": "rho", "type": "quantitative", "scale": {"domain": [-0.4, 1.0], "nice": false, "zero": false}, "axis": null},
        "y": {"field": "eta", "type": "quantitative", "scale": {"domain": [0, 0.7], "nice": false, "zero": false}, "axis": null},
        "text": {"field": "label"}
      }
    },
    {
      "data": {"name": "labels"},
      "transform": [{"filter": "datum.role === 'sub'"}],
      "mark": {"type": "text", "fontSize": 12, "align": "left", "baseline": "alphabetic", "color": "black"},
      "encoding": {
        "x": {"field": "rho", "type": "quantitative", "scale": {"domain": [-0.4, 1.0], "nice": false, "zero": false}, "axis": null},
        "y": {"field": "eta", "type": "quantitative", "scale": {"domain": [0, 0.7], "nice": false, "zero": false}, "axis": null},
        "text": {"field": "label"}
      }
    },
    {
      "data": {"name": "labels"},
      "transform": [{"filter": "datum.role === 'big'"}],
      "mark": {"type": "text", "fontSize": 22, "align": "left", "baseline": "alphabetic", "color": "black"},
      "encoding": {
        "x": {"field": "rho", "type": "quantitative", "scale": {"domain": [-0.4, 1.0], "nice": false, "zero": false}, "axis": null},
        "y": {"field": "eta", "type": "quantitative", "scale": {"domain": [0, 0.7], "nice": false, "zero": false}, "axis": null},
        "text": {"field": "label"}
      }
    },
    {
      "data": {"name": "labels"},
      "transform": [{"filter": "datum.role === 'bigsub'"}],
      "mark": {"type": "text", "fontSize": 14, "align": "left", "baseline": "alphabetic", "color": "black"},
      "encoding": {
        "x": {"field": "rho", "type": "quantitative", "scale": {"domain": [-0.4, 1.0], "nice": false, "zero": false}, "axis": null},
        "y": {"field": "eta", "type": "quantitative", "scale": {"domain": [0, 0.7], "nice": false, "zero": false}, "axis": null},
        "text": {"field": "label"}
      }
    },
    {
      "data": {"name": "labels"},
      "transform": [{"filter": "datum.role === 'angle'"}],
      "mark": {"type": "text", "fontSize": 14, "align": "left", "baseline": "alphabetic", "color": "black"},
      "encoding": {
        "x": {"field": "rho", "type": "quantitative", "scale": {"domain": [-0.4, 1.0], "nice": false, "zero": false}, "axis": null},
        "y": {"field": "eta", "type": "quantitative", "scale": {"domain": [0, 0.7], "nice": false, "zero": false}, "axis": null},
        "text": {"field": "label"}
      }
    },
    {
      "data": {"name": "labels"},
      "transform": [{"filter": "datum.role === 'anglesub'"}],
      "mark": {"type": "text", "fontSize": 10, "align": "left", "baseline": "alphabetic", "color": "black"},
      "encoding": {
        "x": {"field": "rho", "type": "quantitative", "scale": {"domain": [-0.4, 1.0], "nice": false, "zero": false}, "axis": null},
        "y": {"field": "eta", "type": "quantitative", "scale": {"domain": [0, 0.7], "nice": false, "zero": false}, "axis": null},
        "text": {"field": "label"}
      }
    },
    {
      "data": {"name": "labels"},
      "transform": [{"filter": "datum.role === 'note'"}],
      "mark": {"type": "text", "fontSize": 8.5, "align": "center", "baseline": "alphabetic", "color": "#222222"},
      "encoding": {
        "x": {"field": "rho", "type": "quantitative", "scale": {"domain": [-0.4, 1.0], "nice": false, "zero": false}, "axis": null},
        "y": {"field": "eta", "type": "quantitative", "scale": {"domain": [0, 0.7], "nice": false, "zero": false}, "axis": null},
        "text": {"field": "label"}
      }
    },
    {
      "data": {"name": "labels"},
      "transform": [{"filter": "datum.role === 'vert'"}],
      "mark": {"type": "text", "fontSize": 10.5, "align": "center", "baseline": "middle", "angle": 270, "color": "#333333"},
      "encoding": {
        "x": {"field": "rho", "type": "quantitative", "scale": {"domain": [-0.4, 1.0], "nice": false, "zero": false}, "axis": null},
        "y": {"field": "eta", "type": "quantitative", "scale": {"domain": [0, 0.7], "nice": false, "zero": false}, "axis": null},
        "text": {"field": "label"}
      }
    },
    {
      "data": {"name": "labels"},
      "transform": [{"filter": "datum.role === 'ckm'"}],
      "mark": {"type": "text", "fontSize": 19, "fontStyle": "italic", "align": "center", "baseline": "alphabetic", "color": "white"},
      "encoding": {
        "x": {"field": "rho", "type": "quantitative", "scale": {"domain": [-0.4, 1.0], "nice": false, "zero": false}, "axis": null},
        "y": {"field": "eta", "type": "quantitative", "scale": {"domain": [0, 0.7], "nice": false, "zero": false}, "axis": null},
        "text": {"field": "label"}
      }
    },
    {
      "data": {"name": "labels"},
      "transform": [{"filter": "datum.role === 'fitter'"}],
      "mark": {"type": "text", "fontSize": 10, "fontWeight": "bold", "align": "center", "baseline": "alphabetic", "color": "#1515ee"},
      "encoding": {
        "x": {"field": "rho", "type": "quantitative", "scale": {"domain": [-0.4, 1.0], "nice": false, "zero": false}, "axis": null},
        "y": {"field": "eta", "type": "quantitative", "scale": {"domain": [0, 0.7], "nice": false, "zero": false}, "axis": null},
        "text": {"field": "label"}
      }
    },
    {
      "data": {"name": "labels"},
      "transform": [{"filter": "datum.role === 'tag'"}],
      "mark": {"type": "text", "fontSize": 5.5, "align": "center", "baseline": "alphabetic", "color": "#1515ee"},
      "encoding": {
        "x": {"field": "rho", "type": "quantitative", "scale": {"domain": [-0.4, 1.0], "nice": false, "zero": false}, "axis": null},
        "y": {"field": "eta", "type": "quantitative", "scale": {"domain": [0, 0.7], "nice": false, "zero": false}, "axis": null},
        "text": {"field": "label"}
      }
    },
    {
      "data": {"name": "labels"},
      "transform": [{"filter": "datum.role === 'page'"}],
      "mark": {"type": "text", "fontSize": 24, "align": "left", "baseline": "alphabetic", "color": "#8a8a8a"},
      "encoding": {
        "x": {"field": "rho", "type": "quantitative", "scale": {"domain": [-0.4, 1.0], "nice": false, "zero": false}, "axis": null},
        "y": {"field": "eta", "type": "quantitative", "scale": {"domain": [0, 0.7], "nice": false, "zero": false}, "axis": null},
        "text": {"field": "label"}
      }
    },
    {
      "data": {"name": "labels"},
      "transform": [{"filter": "datum.role === 'edge'"}],
      "mark": {"type": "text", "fontSize": 30, "font": "Noto Sans CJK JP", "align": "left", "baseline": "alphabetic", "color": "#16a4e3"},
      "encoding": {
        "x": {"field": "rho", "type": "quantitative", "scale": {"domain": [-0.4, 1.0], "nice": false, "zero": false}, "axis": null},
        "y": {"field": "eta", "type": "quantitative", "scale": {"domain": [0, 0.7], "nice": false, "zero": false}, "axis": null},
        "text": {"field": "label"}
      }
    },
    {
      "data": {"name": "labels"},
      "transform": [{"filter": "datum.role === 'edgedark'"}],
      "mark": {"type": "text", "fontSize": 20, "font": "Noto Sans CJK JP", "align": "left", "baseline": "alphabetic", "color": "#2b3550"},
      "encoding": {
        "x": {"field": "rho", "type": "quantitative", "scale": {"domain": [-0.4, 1.0], "nice": false, "zero": false}, "axis": null},
        "y": {"field": "eta", "type": "quantitative", "scale": {"domain": [0, 0.7], "nice": false, "zero": false}, "axis": null},
        "text": {"field": "label"}
      }
    }
  ]
}
